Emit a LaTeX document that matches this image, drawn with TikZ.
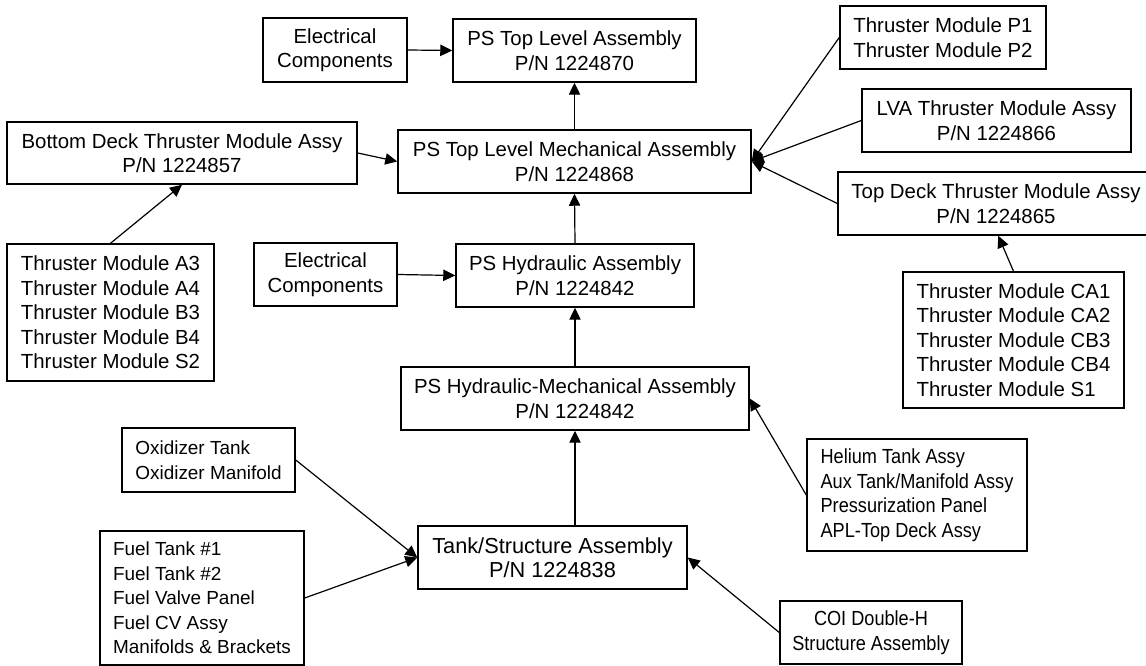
\documentclass[tikz,border=0pt]{standalone}
\usepackage{fontspec}
\setmainfont{Liberation Sans}
\newfontfamily\narrowsf[FakeStretch=0.89]{Liberation Sans}
\usetikzlibrary{arrows.meta}

\begin{document}
\begin{tikzpicture}[x=0.75pt, y=-0.75pt,
	box/.style={draw, line width=1.1pt, inner sep=2pt, align=center,
		font=\fontsize{15.3}{18.4}\selectfont},
	list/.style={box, align=left},
	fs/.style={font=\fontsize{#1}{18.4}\selectfont},
	narrow/.style={font=\narrowsf\fontsize{15.3}{18.4}\selectfont},
	sz/.style 2 args={minimum width=#1*0.75pt, minimum height=#2*0.75pt},
	arr/.style={-{Triangle[length=9pt,width=8.5pt]}, line width=0.9pt}]
			\useasboundingbox (0,0) rectangle (1146,666);
			%top level
			\node[box, sz={144}{64}] (elecTop) at (335,50) {Electrical\\Components};
			\node[box, sz={243}{63}] (topAssy) at (574.5,50.5) {PS Top Level Assembly\\P/N 1224870};
			\node[list, sz={206}{63}] (modP) at (943,37.5) {Thruster Module P1\\Thruster Module P2};
			%mechanical level
			\node[box, sz={350}{62}] (bottomDeck) at (182,153) {Bottom Deck Thruster Module Assy\\P/N 1224857};
			\node[box, sz={353}{63}] (mechAssy) at (574.5,161.5) {PS Top Level Mechanical Assembly\\P/N 1224868};
			\node[box, sz={269}{63}] (lvaAssy) at (996.5,120.5) {LVA Thruster Module Assy\\P/N 1224866};
			\node[box, sz={316}{63}] (topDeck) at (996,203.5) {Top Deck Thruster Module Assy\\P/N 1224865};
			%hydraulic level
			\node[list, sz={207}{137}] (modA) at (110.5,312.5)
			{
				Thruster Module A3\\
				Thruster Module A4\\
				Thruster Module B3\\
				Thruster Module B4\\
				Thruster Module S2
			};
			\node[box, sz={143}{63}] (elecHyd) at (325.5,274.5) {Electrical\\Components};
			\node[box, sz={238}{63}] (hydAssy) at (575,275.5) {PS Hydraulic Assembly\\P/N 1224842};
			\node[list, sz={221}{136}] (modC) at (1013.5,340)
			{
				Thruster Module CA1\\
				Thruster Module CA2\\
				Thruster Module CB3\\
				Thruster Module CB4\\
				Thruster Module S1
			};
			\node[box, sz={348}{63}] (hydMech) at (575,398.5) {PS Hydraulic-Mechanical Assembly\\P/N 1224842};
			%tank level
			\node[list, sz={173}{64}, fs=14.2] (oxTank) at (208.5,460) {Oxidizer Tank\\Oxidizer Manifold};
			\node[list, sz={220}{112}, narrow] (heTank) at (917,495)
			{
				Helium Tank Assy\\
				Aux Tank/Manifold Assy\\
				Pressurization Panel\\
				APL-Top Deck Assy
			};
			\node[list, sz={204}{134}, fs=14.2] (fuelTank) at (202,598)
			{
				Fuel Tank \#1\\
				Fuel Tank \#2\\
				Fuel Valve Panel\\
				Fuel CV Assy\\
				Manifolds \& Brackets
			};
			\node[box, sz={269}{63}, fs=16.3] (tankStruct) at (552.5,557.5) {Tank/Structure Assembly\\P/N 1224838};
			\node[box, sz={182}{63}, narrow] (coiStruct) at (871,632.5) {COI Double-H\\Structure Assembly};
			%arrows
			\draw[arr] (elecTop.east) -- (topAssy.west);
			\draw[arr] (mechAssy.north) -- (topAssy.south);
			\draw[arr] (bottomDeck.east) -- (mechAssy.west);
			\foreach \n in {modP,lvaAssy,topDeck}
			\draw[arr] (\n.west) -- (mechAssy.east);
			\draw[arr] (modA.north) -- (bottomDeck.south);
			\draw[arr] (modC.north) -- (topDeck.-86);
			\draw[arr] (hydAssy.north) -- (mechAssy.south);
			\draw[arr] (elecHyd.east) -- (hydAssy.west);
			\draw[arr] (hydMech.north) -- (hydAssy.south);
			\draw[arr] (heTank.west) -- (hydMech.east);
			\draw[arr] (hydMech.south |- tankStruct.north) -- (hydMech.south);
			\foreach \n in {oxTank,fuelTank}
			\draw[arr] (\n.east) -- (tankStruct.west);
			\draw[arr] (coiStruct.west) -- (tankStruct.east);
\end{tikzpicture}
\end{document}
